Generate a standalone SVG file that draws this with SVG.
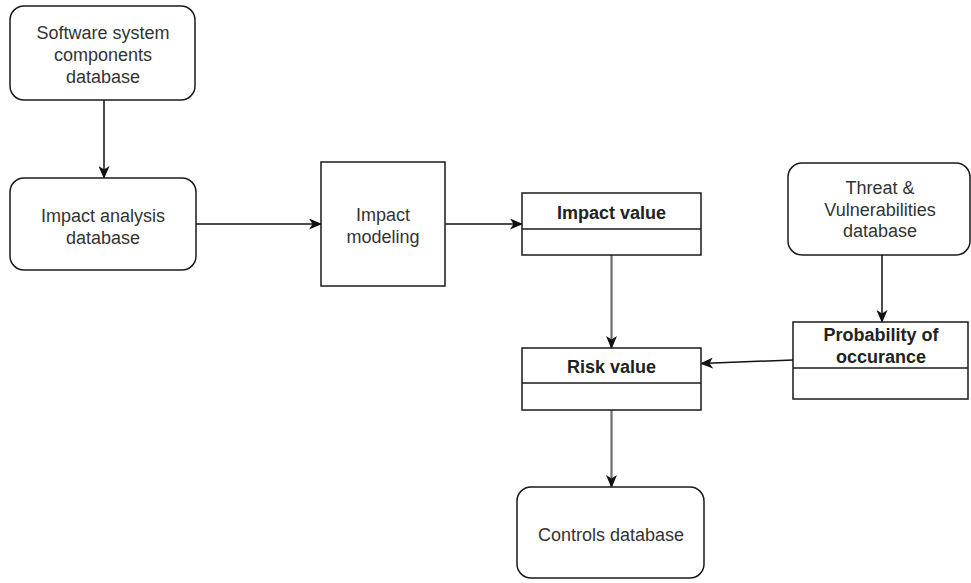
<svg xmlns="http://www.w3.org/2000/svg" width="971" height="583" viewBox="0 0 971 583">
<defs>
<style>
.box{fill:#fff;stroke:#1a1a1a;stroke-width:1.5}
.t{font-family:"Liberation Sans",Arial,Helvetica,sans-serif;font-size:18px;fill:#333;text-anchor:middle}
.b{font-weight:bold;fill:#222}
.c{fill:none;stroke:#111;stroke-width:1.5}
.g{fill:none;stroke:#6e6e6e;stroke-width:2.2}
</style>
<marker id="arr" viewBox="0 0 13 11" refX="12" refY="5.5" markerWidth="13" markerHeight="11" markerUnits="userSpaceOnUse" orient="auto">
<path d="M0,0 L13,5.5 L0,11 L3.5,5.5 Z" fill="#111"/>
</marker>
</defs>
<rect width="971" height="583" fill="#fff"/>
<g id="connectors">
<line class="c" x1="104" y1="100" x2="104" y2="178" marker-end="url(#arr)"/>
<line class="c" x1="196" y1="224" x2="321" y2="224" marker-end="url(#arr)"/>
<line class="c" x1="445" y1="224" x2="522" y2="224" marker-end="url(#arr)"/>
<line class="g" x1="611.5" y1="255" x2="611.5" y2="348" marker-end="url(#arr)"/>
<line class="c" x1="882" y1="255" x2="882" y2="322" marker-end="url(#arr)"/>
<line class="c" x1="793" y1="360" x2="701" y2="363.5" marker-end="url(#arr)"/>
<line class="g" x1="611.5" y1="410" x2="611.5" y2="487" marker-end="url(#arr)"/>
</g>
<g id="software-db">
<rect class="box" x="10" y="6" width="185" height="94" rx="14"/>
<text class="t" x="103" y="39">Software system</text>
<text class="t" x="103" y="61">components</text>
<text class="t" x="103" y="83">database</text>
</g>
<g id="impact-analysis-db">
<rect class="box" x="10" y="178" width="186" height="92" rx="14"/>
<text class="t" x="103" y="222">Impact analysis</text>
<text class="t" x="103" y="243.5">database</text>
</g>
<g id="impact-modeling">
<rect class="box" x="321" y="162" width="124" height="124"/>
<text class="t" x="383" y="221">Impact</text>
<text class="t" x="383" y="242.5">modeling</text>
</g>
<g id="impact-value">
<rect class="box" x="522" y="193" width="179" height="62"/>
<line class="box" x1="522" y1="229" x2="701" y2="229"/>
<text class="t b" x="611.5" y="219">Impact value</text>
</g>
<g id="threat-db">
<rect class="box" x="788" y="163" width="182" height="92" rx="14"/>
<text class="t" x="880" y="194">Threat &amp;</text>
<text class="t" x="880" y="215.5">Vulnerabilities</text>
<text class="t" x="880" y="237">database</text>
</g>
<g id="probability">
<rect class="box" x="793" y="322" width="175" height="77"/>
<line class="box" x1="793" y1="368" x2="968" y2="368"/>
<text class="t b" x="881" y="341">Probability of</text>
<text class="t b" x="881" y="362.5">occurance</text>
</g>
<g id="risk-value">
<rect class="box" x="522" y="348" width="179" height="62"/>
<line class="box" x1="522" y1="383" x2="701" y2="383"/>
<text class="t b" x="611.5" y="373">Risk value</text>
</g>
<g id="controls-db">
<rect class="box" x="517" y="487" width="187" height="91" rx="14"/>
<text class="t" x="611" y="540.5">Controls database</text>
</g>
</svg>
